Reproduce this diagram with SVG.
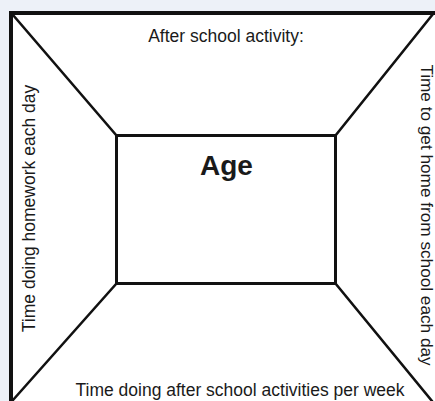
<svg xmlns="http://www.w3.org/2000/svg" width="435" height="401" viewBox="0 0 435 401">
  <style>
    .frame { fill: #ffffff; stroke: #111111; stroke-width: 4; }
    .box { fill: #ffffff; stroke: #111111; stroke-width: 3; }
    .edge { stroke: #111111; stroke-width: 2.6; fill: none; stroke-linecap: round; }
    .lbl { font-family: "Liberation Sans", Arial, sans-serif; font-size: 17.5px; fill: #1a1a1a; }
    .title { font-family: "Liberation Sans", Arial, sans-serif; font-size: 28px; font-weight: bold; fill: #1a1a1a; }
  </style>
  <rect x="0" y="0" width="435" height="401" fill="#edf1f8"/>

  <!-- outer frame: white panel with top and left borders -->
  <g id="frame">
    <rect x="11" y="13" width="430" height="395" fill="#ffffff"/>
    <path class="edge" d="M9 13 H437 M11 11 V403" style="stroke-width:4;stroke-linecap:butt"/>
  </g>

  <!-- corner connectors joining the frame to the centre box -->
  <g id="connectors">
    <line class="edge" x1="13" y1="15" x2="116.5" y2="135.5"/>
    <line class="edge" x1="433" y1="14" x2="335.5" y2="135.5"/>
    <line class="edge" x1="116.5" y1="283.5" x2="13" y2="400"/>
    <line class="edge" x1="335.5" y1="283.5" x2="432" y2="401"/>
  </g>

  <g id="age">
    <rect class="box" x="116.5" y="135.5" width="219" height="148"/>
    <text class="title" x="226.5" y="174.5" text-anchor="middle">Age</text>
  </g>

  <g id="top-panel">
    <text class="lbl" x="226" y="41.5" text-anchor="middle">After school activity:</text>
  </g>

  <g id="left-panel">
    <text class="lbl" transform="translate(35 208.5) rotate(-90)" text-anchor="middle">Time doing homework each day</text>
  </g>

  <g id="right-panel">
    <text class="lbl" transform="translate(420.5 215) rotate(90)" text-anchor="middle" style="font-size:17.2px">Time to get home from school each day</text>
  </g>

  <g id="bottom-panel">
    <text class="lbl" x="240" y="396" text-anchor="middle">Time doing after school activities per week</text>
  </g>
</svg>
